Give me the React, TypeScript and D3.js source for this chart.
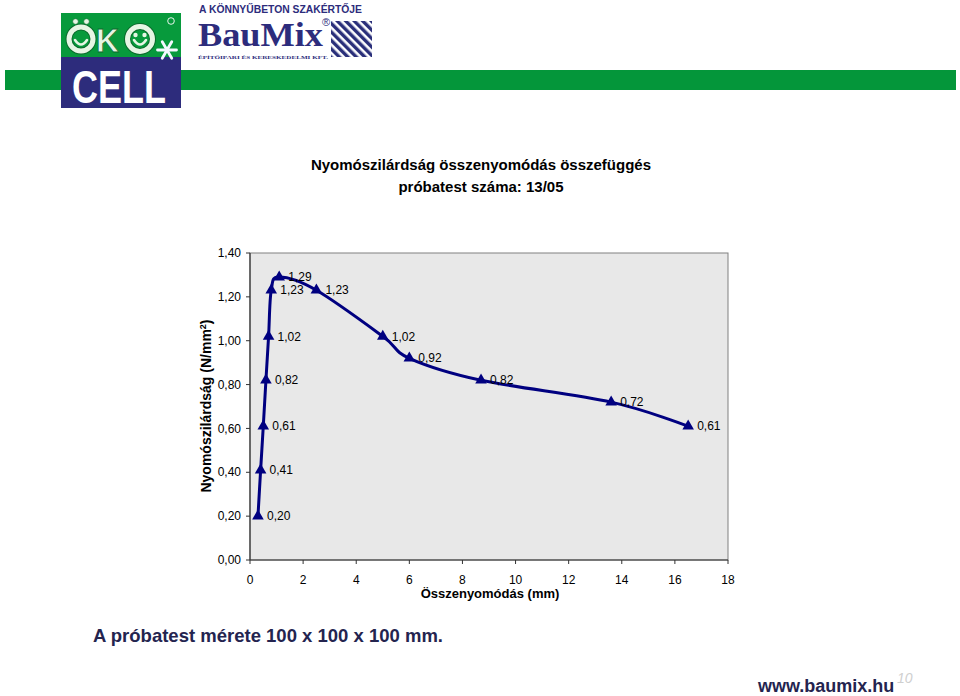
import React from "react";
import * as d3 from "d3";

const xValues = [0.3, 0.4, 0.5, 0.6, 0.7, 0.8, 1.1, 2.5, 5.0, 6.0, 8.7, 13.6, 16.5];
const yValues = [0.2, 0.41, 0.61, 0.82, 1.02, 1.23, 1.29, 1.23, 1.02, 0.92, 0.82, 0.72, 0.61];
const xTicks = [0, 2, 4, 6, 8, 10, 12, 14, 16, 18];
const yTicks = [0, 0.2, 0.4, 0.6, 0.8, 1.0, 1.2, 1.4];
const titleLines = ["Nyomószilárdság összenyomódás összefüggés", "próbatest száma: 13/05"];
const xLabel = "Összenyomódás (mm)";
const yLabel = "Nyomószilárdság (N/mm";
const footNote = "A próbatest mérete 100 x 100 x 100 mm.";
const website = "www.baumix.hu";
const pageNum = "10";

const FONT = "'Liberation Sans', Arial, sans-serif";
const SERIF = "'Liberation Serif', 'Times New Roman', serif";
const NAVY = "#000080";
const LOGO_NAVY = "#2d2c7c";
const PALE = "#e6f6e4";

const fmt = (v: number) => v.toFixed(2).replace(".", ",");

function Smiley({ cx, cy, r, eyes, umlaut }: { cx: number; cy: number; r: number; eyes: boolean; umlaut: boolean }) {
  return (
    <g>
      <circle cx={cx} cy={cy} r={r} fill="none" stroke="#0b6b2c" strokeWidth={7} />
      <circle cx={cx} cy={cy} r={r} fill="none" stroke={PALE} strokeWidth={5} />
      <path d={`M${cx - 6},${cy + 1} Q${cx},${cy + 10} ${cx + 6},${cy + 1}`} fill="none" stroke={PALE} strokeWidth={2.6} strokeLinecap="round" />
      {eyes && (
        <g fill={PALE}>
          <circle cx={cx - 4.5} cy={cy - 4} r={2.2} />
          <circle cx={cx + 4.5} cy={cy - 4} r={2.2} />
        </g>
      )}
      {umlaut && (
        <g fill={PALE} stroke="#0b6b2c" strokeWidth={0.6}>
          <circle cx={cx - 5.5} cy={cy - r - 5.5} r={2.8} />
          <circle cx={cx + 5.5} cy={cy - r - 5.5} r={2.8} />
        </g>
      )}
    </g>
  );
}

export default function App() {
  const left = 250, right = 728, top = 253, bottom = 560;
  const x = d3.scaleLinear().domain([0, 18]).range([left, right]);
  const y = d3.scaleLinear().domain([0, 1.4]).range([bottom, top]);
  const pts: [number, number][] = xValues.map((v, i) => [x(v), y(yValues[i])]);
  const line = d3.line().curve(d3.curveCardinal.tension(0))(pts) || "";
  const tri = d3.symbol().type(d3.symbolTriangle).size(58)() || "";
  const flake = [0, 60, 120].map((a) => {
    const r = (a * Math.PI) / 180;
    const cx = 167, cy = 50, L = 9.5;
    return { x1: cx - L * Math.cos(r), y1: cy - L * Math.sin(r), x2: cx + L * Math.cos(r), y2: cy + L * Math.sin(r) };
  });

  return (
    <div style={{ position: "absolute", left: 0, top: 0, width: 960, height: 696, background: "#fff" }}>
      <svg width={960} height={696} style={{ display: "block" }}>
        <defs>
          <pattern id="stripes" width="6" height="6" patternUnits="userSpaceOnUse" patternTransform="rotate(-45)">
            <rect width="6" height="6" fill="#fff" />
            <rect width="3.4" height="6" fill="#2a2f7a" />
          </pattern>
        </defs>
        {/* green bar */}
        <rect x={5} y={70} width={951} height={20} fill="#04963a" />
        {/* ÖKO CELL logo */}
        <rect x={61} y={13} width={120} height={45} fill="#079a3c" />
        <rect x={61} y={57} width={120} height={51} fill={LOGO_NAVY} />
        <Smiley cx={81} cy={39} r={12} eyes={false} umlaut={true} />
        <text x={96} y={52} fontFamily={FONT} fontWeight="bold" fontSize={34} fill={PALE} stroke="#0b6b2c" strokeWidth={0.8} textLength={23} lengthAdjust="spacingAndGlyphs">K</text>
        <Smiley cx={140} cy={39} r={12.5} eyes={true} umlaut={false} />
        <g stroke="#f4f8ff" strokeWidth={2.8} strokeLinecap="round">
          {flake.map((f, i) => (
            <line key={i} {...f} />
          ))}
        </g>
        <circle cx={171} cy={21} r={3.3} fill="none" stroke="#fff" strokeWidth={0.9} />
        <text x={72} y={103} fontFamily={FONT} fontWeight="bold" fontSize={46} fill="#fff" textLength={94} lengthAdjust="spacingAndGlyphs">CELL</text>
        {/* BauMix logo */}
        <text x={199} y={13} fontFamily={FONT} fontWeight="bold" fontSize={10} fill={LOGO_NAVY} textLength={163} lengthAdjust="spacingAndGlyphs">A KÖNNYŰBETON SZAKÉRTŐJE</text>
        <g transform="translate(198,0) scale(1.1,1)">
          <text x={0} y={46} fontFamily={SERIF} fontWeight="bold" fontSize={33} fill={LOGO_NAVY}>
            BauMix
            <tspan dx={-1} dy={-20} fontSize={10} fontFamily={FONT} fontWeight="normal">®</tspan>
          </text>
        </g>
        <text x={198} y={58.5} fontFamily={SERIF} fontWeight="bold" fontSize={5} fill={LOGO_NAVY} textLength={130} lengthAdjust="spacingAndGlyphs">ÉPÍTŐIPARI ÉS KERESKEDELMI KFT.</text>
        <rect x={331} y={21} width={41} height={36} fill="url(#stripes)" />

        {/* title */}
        {titleLines.map((t, i) => (
          <text key={i} x={481} y={170 + i * 22} textAnchor="middle" fontFamily={FONT} fontWeight="bold" fontSize={15} fill="#000">{t}</text>
        ))}

        {/* plot area */}
        <rect x={left} y={top} width={right - left} height={bottom - top} fill="#e8e8e8" stroke="#808080" strokeWidth={1} />
        <line x1={left} x2={left} y1={top} y2={bottom} stroke="#333" strokeWidth={1.2} />
        <line x1={left} x2={right} y1={bottom} y2={bottom} stroke="#333" strokeWidth={1.2} />

        {/* y axis */}
        {yTicks.map((t) => (
          <g key={"y" + t}>
            <line x1={left - 4} x2={left} y1={y(t)} y2={y(t)} stroke="#333" />
            <text x={241} y={y(t)} dy="0.35em" textAnchor="end" fontFamily={FONT} fontSize={12} fill="#000">{fmt(t)}</text>
          </g>
        ))}
        {/* x axis */}
        {xTicks.map((t) => (
          <g key={"x" + t}>
            <line x1={x(t)} x2={x(t)} y1={bottom} y2={bottom + 4} stroke="#333" />
            <text x={x(t)} y={584} textAnchor="middle" fontFamily={FONT} fontSize={12} fill="#000">{t}</text>
          </g>
        ))}
        <text x={490} y={598} textAnchor="middle" fontFamily={FONT} fontWeight="bold" fontSize={13} fill="#000">{xLabel}</text>
        <text transform="translate(211,406) rotate(-90)" textAnchor="middle" fontFamily={FONT} fontWeight="bold" fontSize={14} fill="#000">
          {yLabel}<tspan dy={-5} fontSize={9}>2</tspan><tspan dy={5}>)</tspan>
        </text>

        {/* series */}
        <path d={line} fill="none" stroke={NAVY} strokeWidth={3} strokeLinejoin="round" />
        {pts.map(([px, py], i) => (
          <g key={"p" + i}>
            <path d={tri} transform={`translate(${px},${py})`} fill={NAVY} />
            <text x={px + 9} y={py} dy="0.35em" fontFamily={FONT} fontSize={12} fill="#000">{fmt(yValues[i])}</text>
          </g>
        ))}

        {/* footer */}
        <text x={93} y={642} fontFamily={FONT} fontWeight="bold" fontSize={18.5} fill="#24244f">{footNote}</text>
        <text x={758} y={692} fontFamily={FONT} fontWeight="bold" fontSize={18} fill="#24244f">{website}</text>
        <text x={897} y={683} fontFamily={FONT} fontStyle="italic" fontSize={14} fill="#cfcfcf">{pageNum}</text>
      </svg>
    </div>
  );
}
